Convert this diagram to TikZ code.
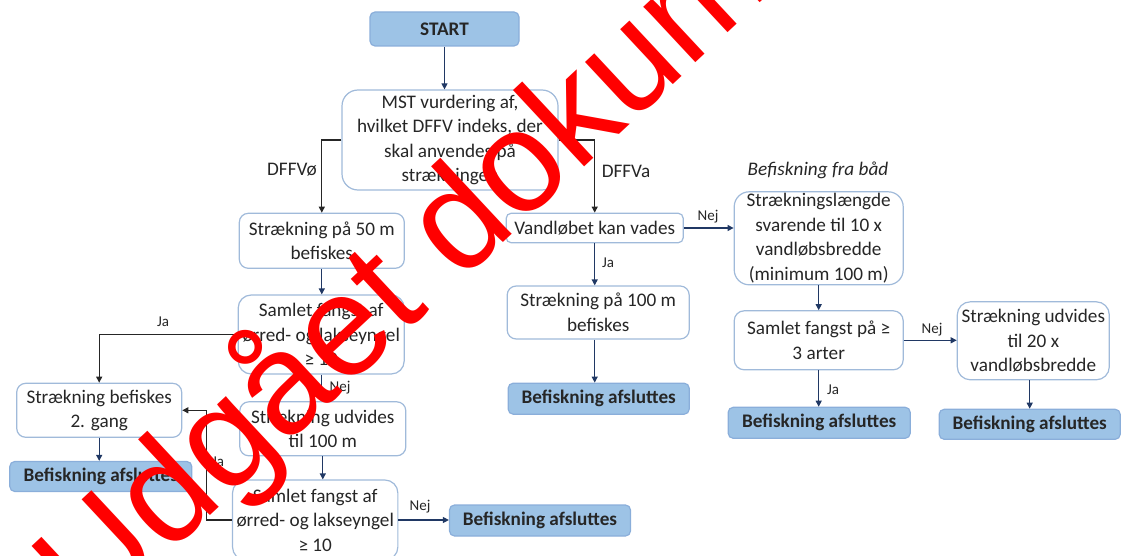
\documentclass[tikz,border=0pt]{standalone}
\usepackage{fontspec}
\setmainfont{Carlito}
\newfontfamily\wmfont{Liberation Sans}
\usetikzlibrary{arrows.meta}
\definecolor{boxline}{RGB}{160,186,218}
\definecolor{boxfill}{RGB}{157,195,230}
\definecolor{endline}{RGB}{138,174,218}
\definecolor{navy}{RGB}{32,56,100}
\definecolor{txt}{RGB}{38,38,38}
\tikzset{
  % boxes
  stepbox/.style = {draw=boxline, fill=white, rounded corners=4.5pt, align=center, text=txt,
                    font=\fontsize{9.6pt}{12.3pt}\selectfont, inner sep=2pt, line width=0.6pt},
  endbox/.style  = {draw=endline, fill=boxfill, rounded corners=2.5pt, align=center, text=txt,
                    font=\fontsize{9.6pt}{12.3pt}\selectfont\bfseries, inner sep=1pt, line width=0.6pt},
  lab/.style     = {text=txt, font=\fontsize{7.5pt}{9pt}\selectfont, inner sep=0pt},
  branch/.style  = {text=txt, font=\fontsize{9.6pt}{12.3pt}\selectfont, inner sep=0pt},
  wmark/.style   = {text=red, font=\wmfont\fontsize{72pt}{72pt}\selectfont, rotate=43, inner sep=0pt},
  % arrows
  flow/.style  = {draw=navy, line width=0.6pt, -{Triangle[length=3pt,width=3pt]}},
  flowk/.style = {draw=txt, line width=0.6pt, -{Triangle[length=3pt,width=3pt]}},
}
\begin{document}
\begin{tikzpicture}[x=0.5pt, y=-0.5pt]
\useasboundingbox (0,0) rectangle (1125,556);

% ---------- Top ----------
\node[endbox, minimum width=74.5pt, minimum height=17pt] (start) at (444.5,29) {START};
\node[stepbox, rounded corners=8pt, minimum width=108pt, minimum height=50pt] (mst) at (450,140)
  {MST vurdering af,\\hvilket DFFV indeks, der\\skal anvendes på\\strækningen};

% ---------- DFFVø branch ----------
\node[stepbox, minimum width=82.5pt, minimum height=27.5pt] (s50) at (321.8,240.8)
  {Strækning på 50 m\\befiskes};
\node[stepbox, rounded corners=6.5pt, minimum width=83pt, minimum height=39.5pt] (sam1) at (321.2,334.5)
  {Samlet fangst af\\ørred- og lakseyngel\\≥ 10};
\node[stepbox, minimum width=83pt, minimum height=27pt] (udv100) at (322.8,428.8)
  {Strækning udvides\\til 100 m};
\node[stepbox, rounded corners=6.5pt, minimum width=82.5pt, minimum height=40pt] (sam2) at (315.2,520)
  {Samlet fangst af\\ørred- og lakseyngel\\≥ 10};
\node[stepbox, minimum width=82.5pt, minimum height=27pt] (bef2) at (99.2,410.3)
  {Strækning befiskes\\2. gang};
\node[endbox, minimum width=91pt, minimum height=15pt] (befl) at (100.8,476.5) {Befiskning afsluttes};
\node[endbox, minimum width=90.5pt, minimum height=15.5pt] (befb) at (540,520.5) {Befiskning afsluttes};

% ---------- DFFVa branch ----------
\node[stepbox, rounded corners=2.5pt, minimum width=88.5pt, minimum height=14.75pt] (vade) at (594.7,228)
  {Vandløbet kan vades};
\node[stepbox, minimum width=91pt, minimum height=26.5pt] (s100) at (598.2,312.5)
  {Strækning på 100 m\\befiskes};
\node[endbox, minimum width=90.5pt, minimum height=15.5pt] (befm) at (598.7,398.7) {Befiskning afsluttes};

% ---------- Boat ----------
\node[branch, font=\fontsize{9.6pt}{12.3pt}\selectfont\itshape] (boat) at (818,170) {Befiskning fra båd};
\node[stepbox, rounded corners=7.5pt, inner ysep=0pt, minimum width=84.5pt, minimum height=46.5pt] (lang) at (818.7,238.3)
  {Strækningslængde\\svarende til 10 x\\vandløbsbredde\\(minimum 100 m)};
\node[stepbox, rounded corners=5pt, minimum width=84.5pt, minimum height=29.5pt] (sam3) at (818.7,340.3)
  {Samlet fangst på ≥\\3 arter};
\node[stepbox, rounded corners=6.5pt, minimum width=76pt, minimum height=39pt] (udv20) at (1033.3,340.8)
  {Strækning udvides\\til 20 x\\vandløbsbredde};
\node[endbox, minimum width=91pt, minimum height=15.5pt] (befr1) at (819.2,422.8) {Befiskning afsluttes};
\node[endbox, minimum width=90.5pt, minimum height=15pt] (befr2) at (1029.7,424.3) {Befiskning afsluttes};

% ---------- Connectors ----------
\draw[flow]  (start.south) -- (start.south |- mst.north);
\draw[flowk] (mst.west) -| (s50.north);
\draw[flowk] (mst.east) -| (vade.north);
\draw[flow]  (s50.south) -- (s50.south |- sam1.north);
\draw[flowk] (sam1.west) -| (bef2.north);
\draw[flow]  (sam1.south) -- (sam1.south |- udv100.north);
\draw[flow]  (udv100.south) -- (udv100.south |- sam2.north);
\draw[flowk] (sam2.west) -- ++(-25.5,0) |- (bef2.east);
\draw[flow]  (sam2.east) -- (sam2.east -| befb.west);
\draw[flow]  (bef2.south) -- (bef2.south |- befl.north);
\draw[flow]  (vade.east) -- (vade.east -| lang.west);
\draw[flow]  (vade.south) -- (vade.south |- s100.north);
\draw[flow]  (s100.south -| vade.south) -- (vade.south |- befm.north);
\draw[flow]  (lang.south) -- (sam3.north);
\draw[flow]  (sam3.east) -- (sam3.east -| udv20.west);
\draw[flow]  (sam3.south) -- (sam3.south |- befr1.north);
\draw[flow]  (befr2.north |- udv20.south) -- (befr2.north);

% ---------- Labels ----------
\node[branch] (ldffvo) at (292,170) {DFFVø};
\node[branch] (ldffva) at (626,171) {DFFVa};
\node[lab] (lja1)  at (163,322) {Ja};
\node[lab] (lnej1) at (340,388) {Nej};
\node[lab] (lja2)  at (218,462) {Ja};
\node[lab] (lnej2) at (420,507) {Nej};
\node[lab] (lnej3) at (708,217) {Nej};
\node[lab] (lja3)  at (608,263) {Ja};
\node[lab] (lnej4) at (932,330) {Nej};
\node[lab] (lja4)  at (833,390) {Ja};

% ---------- Watermark ----------
\node[wmark] (wm) at (478,207) {Udgået dokument};

\end{tikzpicture}
\end{document}
